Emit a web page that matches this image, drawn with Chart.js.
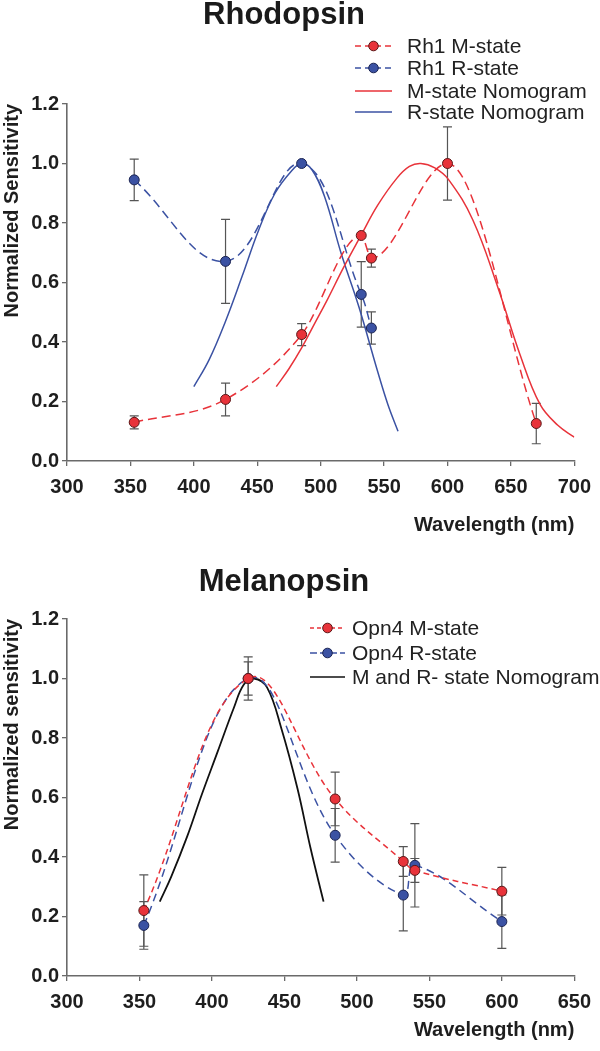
<!DOCTYPE html>
<html>
<head>
<meta charset="utf-8">
<script src="https://cdn.jsdelivr.net/npm/chart.js@4.4.0/dist/chart.umd.min.js"></script>
<style>
  html, body { margin: 0; padding: 0; background: #fff; }
  #wrap { position: relative; width: 600px; height: 1051px; }
  canvas { position: absolute; left: 0; }
</style>
</head>
<body>
<div id="wrap">
  <canvas id="rho" width="600" height="545" style="top:0;width:600px;height:545px"></canvas>
  <canvas id="mel" width="600" height="506" style="top:545px;width:600px;height:506px"></canvas>
</div>
<script>
// ---- Rhodopsin data ----
const rhoXTicks = [300, 350, 400, 450, 500, 550, 600, 650, 700];
const rh1MWl = [353, 425, 485, 532, 540, 600, 670];
const rh1M = [0.13, 0.207, 0.425, 0.758, 0.682, 1.0, 0.126];
const rh1MErr = [0.022, 0.055, 0.037, 0, 0.03, 0.123, 0.068];
const rh1RWl = [353, 425, 485, 532, 540];
const rh1R = [0.945, 0.671, 1.0, 0.56, 0.447];
const rh1RErr = [0.07, 0.141, 0, 0.11, 0.054];
const mNomoWl = [465, 475, 485, 495, 505, 518, 532, 545, 560, 570, 579, 590, 601, 620, 640, 657, 673, 687, 700];
const mNomo = [0.25, 0.31, 0.38, 0.46, 0.54, 0.65, 0.76, 0.86, 0.95, 0.99, 1.0, 0.985, 0.945, 0.81, 0.58, 0.36, 0.19, 0.12, 0.08];
const rNomoWl = [400, 412, 425, 438, 451, 464, 477, 485, 493, 503, 516, 530, 545, 553, 561];
const rNomo = [0.25, 0.34, 0.47, 0.62, 0.775, 0.9, 0.975, 1.0, 0.98, 0.89, 0.7, 0.52, 0.3, 0.19, 0.1];

// ---- Melanopsin data ----
const melXTicks = [300, 350, 400, 450, 500, 550, 600, 650];
const opn4Wl = [353, 425, 485, 532, 540, 600];
const opn4M = [0.22, 1.0, 0.595, 0.385, 0.355, 0.285];
const opn4MErr = [0.12, 0.073, 0.09, 0.05, 0.04, 0.08];
const opn4R = [0.17, 1.0, 0.473, 0.272, 0.372, 0.183];
const opn4RErr = [0.08, 0.056, 0.09, 0.12, 0.14, 0.09];
const melNomoWl = [364, 372, 383, 393, 404, 415, 422, 429, 438, 448, 459, 468, 477];
const melNomo = [0.25, 0.335, 0.47, 0.61, 0.755, 0.9, 0.98, 1.0, 0.97, 0.83, 0.63, 0.43, 0.25];

const yTicks = [0, 0.2, 0.4, 0.6, 0.8, 1.0, 1.2];

const FONT = "'Liberation Sans', Arial, Helvetica, sans-serif";
const RED = '#e8333a';
const BLUE = '#3b52a3';
const AXIS = '#6a6a6a';

const pts = (xs, ys) => xs.map((x, i) => ({ x: x, y: ys[i] }));

// error bars drawn from the dataset's own parsed points
const errorBarPlugin = {
  id: 'errorBars',
  beforeDatasetsDraw(chart) {
    const ctx = chart.ctx;
    const ys = chart.scales.y;
    ctx.save();
    ctx.strokeStyle = '#555';
    ctx.lineWidth = 1.2;
    chart.data.datasets.forEach((ds, i) => {
      if (!ds.errorBars) return;
      chart.getDatasetMeta(i).data.forEach((pt, j) => {
        const e = ds.errorBars[j];
        if (!e) return;
        const v = ds.data[j].y;
        const top = ys.getPixelForValue(v + e);
        const bot = ys.getPixelForValue(v - e);
        ctx.beginPath();
        ctx.moveTo(pt.x, top); ctx.lineTo(pt.x, bot);
        ctx.moveTo(pt.x - 4.5, top); ctx.lineTo(pt.x + 4.5, top);
        ctx.moveTo(pt.x - 4.5, bot); ctx.lineTo(pt.x + 4.5, bot);
        ctx.stroke();
      });
    });
    ctx.restore();
  }
};

// title and legend drawn at fixed spots like the original figure
const decorPlugin = {
  id: 'decor',
  afterDraw(chart, args, opts) {
    const ctx = chart.ctx;
    ctx.save();
    ctx.fillStyle = '#1a1a1a';
    ctx.font = 'bold 31px ' + FONT;
    ctx.textAlign = 'center';
    ctx.textBaseline = 'middle';
    ctx.fillText(opts.title, opts.titleX, opts.titleY);

    ctx.font = '21px ' + FONT;
    ctx.textAlign = 'left';
    chart.data.datasets.forEach((ds, i) => {
      const y = opts.rows[i];
      ctx.strokeStyle = ds.borderColor;
      ctx.lineWidth = 1.6;
      ctx.setLineDash(ds.legendDash || []);
      ctx.beginPath();
      ctx.moveTo(opts.x0, y); ctx.lineTo(opts.x1, y);
      ctx.stroke();
      ctx.setLineDash([]);
      if (ds.pointRadius > 0) {
        ctx.beginPath();
        ctx.arc((opts.x0 + opts.x1) / 2, y, 4.8, 0, Math.PI * 2);
        ctx.fillStyle = ds.pointBackgroundColor;
        ctx.fill();
        ctx.strokeStyle = ds.pointBorderColor;
        ctx.lineWidth = 1;
        ctx.stroke();
      }
      ctx.fillStyle = '#222';
      ctx.fillText(ds.label, opts.textX, y + 1);
    });
    ctx.restore();
  }
};

const dataSet = (label, data, color, border, dash, legendDash, err, mode) => ({
  label: label,
  data: data,
  borderColor: color,
  borderWidth: 1.5,
  borderDash: dash,
  legendDash: legendDash,
  tension: 0.4,
  cubicInterpolationMode: mode || 'default',
  pointRadius: 5,
  pointBackgroundColor: color,
  pointBorderColor: border,
  pointBorderWidth: 1,
  errorBars: err
});

const nomoSet = (label, data, color, width) => ({
  label: label,
  data: data,
  borderColor: color,
  borderWidth: width,
  tension: 0.4,
  pointRadius: 0
});

const makeScales = (xTicks, xMax, yTitle, xHeight, xTitlePad) => ({
  x: {
    type: 'linear',
    min: 300,
    max: xMax,
    afterBuildTicks: s => { s.ticks = xTicks.map(v => ({ value: v })); },
    afterFit: s => { s.height = xHeight; },
    border: { display: true, color: AXIS, width: 1.6 },
    grid: { drawOnChartArea: false, drawTicks: true, tickLength: 5, color: AXIS, lineWidth: 1.3 },
    ticks: { color: '#1e1e1e', font: { family: FONT, size: 20, weight: 'bold' }, padding: 9, maxRotation: 0, autoSkip: false },
    title: { display: true, text: 'Wavelength (nm)', align: 'end', color: '#1e1e1e',
             font: { family: FONT, size: 20, weight: 'bold' }, padding: { top: 0, bottom: xTitlePad } }
  },
  y: {
    min: 0,
    max: 1.2,
    afterBuildTicks: s => { s.ticks = yTicks.map(v => ({ value: v })); },
    afterFit: s => { s.width = 67; },
    border: { display: true, color: AXIS, width: 1.6 },
    grid: { drawOnChartArea: false, drawTicks: true, tickLength: 5, color: AXIS, lineWidth: 1.3 },
    ticks: { color: '#1e1e1e', font: { family: FONT, size: 20, weight: 'bold' }, padding: 3,
             callback: v => v.toFixed(1) },
    title: { display: true, text: yTitle, align: 'end', color: '#1e1e1e',
             font: { family: FONT, size: 20, weight: 'bold' }, padding: { top: 0, bottom: 0 } }
  }
});

new Chart(document.getElementById('rho'), {
  type: 'line',
  data: {
    datasets: [
      dataSet('Rh1 M-state', pts(rh1MWl, rh1M), RED, '#5a1717', [9, 5], [6, 4], rh1MErr, 'monotone'),
      dataSet('Rh1 R-state', pts(rh1RWl, rh1R), BLUE, '#1b2452', [9, 5], [6, 4], rh1RErr),
      nomoSet('M-state Nomogram', pts(mNomoWl, mNomo), RED, 1.5),
      nomoSet('R-state Nomogram', pts(rNomoWl, rNomo), BLUE, 1.5)
    ]
  },
  options: {
    responsive: false,
    animation: false,
    events: [],
    layout: { padding: { top: 104, right: 22, left: 0, bottom: 0 } },
    scales: makeScales(rhoXTicks, 700, 'Normalized Sensitivity', 84, 8),
    plugins: {
      legend: { display: false },
      tooltip: { enabled: false },
      decor: { title: 'Rhodopsin', titleX: 284, titleY: 15, x0: 355, x1: 392, textX: 407, rows: [46, 68, 91, 112] }
    }
  },
  plugins: [errorBarPlugin, decorPlugin]
});

new Chart(document.getElementById('mel'), {
  type: 'line',
  data: {
    datasets: [
      dataSet('Opn4 M-state', pts(opn4Wl, opn4M), RED, '#5a1717', [6, 4], [4, 3], opn4MErr),
      dataSet('Opn4 R-state', pts(opn4Wl, opn4R), BLUE, '#1b2452', [8, 5], [7, 3], opn4RErr),
      nomoSet('M and R- state Nomogram', pts(melNomoWl, melNomo), '#111', 1.8)
    ]
  },
  options: {
    responsive: false,
    animation: false,
    events: [],
    layout: { padding: { top: 74, right: 23, left: 0, bottom: 0 } },
    scales: makeScales(melXTicks, 650, 'Normalized sensitivity', 75, 9),
    plugins: {
      legend: { display: false },
      tooltip: { enabled: false },
      decor: { title: 'Melanopsin', titleX: 284, titleY: 37, x0: 310, x1: 345, textX: 352, rows: [83, 108, 132] }
    }
  },
  plugins: [errorBarPlugin, decorPlugin]
});
</script>
</body>
</html>
